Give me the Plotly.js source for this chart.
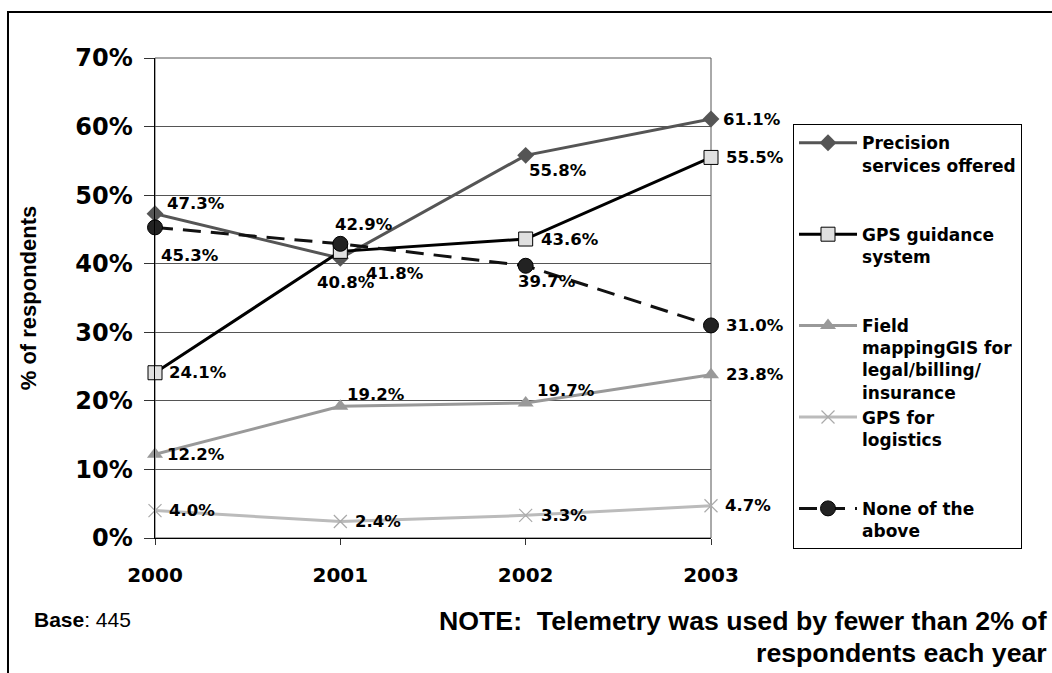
<!DOCTYPE html>
<html>
<head>
<meta charset="utf-8">
<script src="https://cdn.plot.ly/plotly-3.0.1.min.js"></script>
<style>html,body{margin:0;padding:0;background:#fff;}#chart{width:1052px;height:673px;}</style>
</head>
<body>
<div id="chart"></div>
<script>
// ---- data ----
var years = [2000, 2001, 2002, 2003];
var yearLabels = ['2000', '2001', '2002', '2003'];
var precision = [47.3, 40.8, 55.8, 61.1];
var gpsGuidance = [24.1, 41.8, 43.6, 55.5];
var fieldMapping = [12.2, 19.2, 19.7, 23.8];
var gpsLogistics = [4.0, 2.4, 3.3, 4.7];
var noneAbove = [45.3, 42.9, 39.7, 31.0];
var seriesNames = [
  'Precision<br>services offered<br>\u00a0<br>\u00a0',
  'GPS guidance<br>system<br>\u00a0<br>\u00a0',
  'Field<br>mappingGIS for<br>legal/billing/<br>insurance',
  'GPS for<br>logistics<br>\u00a0<br>\u00a0',
  'None of the<br>above'
];
var yTickVals = [0, 10, 20, 30, 40, 50, 60, 70];
var yTickText = ['0%', '10%', '20%', '30%', '40%', '50%', '60%', '70%'];

// ---- styles ----
var WIDE = '"DejaVu Sans", Verdana, sans-serif';
var ARIAL = '"Liberation Sans", Arial, Helvetica, sans-serif';
var styles = [
  {color: '#555555', width: 3, dash: 'solid', marker: {symbol: 'diamond', size: 13, color: '#555555', line: {width: 0}}},
  {color: '#000000', width: 3, dash: 'solid', marker: {symbol: 'square', size: 14, color: '#e0e0e0', line: {width: 1, color: '#000'}}},
  {color: '#999999', width: 3, dash: 'solid', marker: {symbol: 'triangle-up', size: 14, color: '#999999', line: {width: 0}}},
  {color: '#bbbbbb', width: 3, dash: 'solid', marker: {symbol: 'x-thin', size: 13, color: '#aaaaaa', line: {width: 1.2, color: '#aaaaaa'}}},
  {color: '#111111', width: 3, dash: '18px,10px', marker: {symbol: 'circle', size: 15, color: '#222222', line: {width: 1, color: '#000'}}}
];
// label offsets in px (dx right, dy down) for each point
var offsets = [
  [[41, -10], [6, 24], [32, 15], [41, 0]],
  [[43, 0], [55, 22], [44, 0], [44, 0]],
  [[41, 0], [36, -12], [40, -12], [44, 0]],
  [[37, 0], [38, 0], [38, 0], [37, 0]],
  [[35, 28], [24, -19], [21, 16], [44, 0]]
];

var allSeries = [precision, gpsGuidance, fieldMapping, gpsLogistics, noneAbove];
var traces = allSeries.map(function (vals, k) {
  var s = styles[k];
  return {
    type: 'scatter', mode: 'lines+markers', x: years, y: vals, name: seriesNames[k],
    line: {color: s.color, width: s.width, dash: s.dash},
    marker: s.marker, cliponaxis: false, hoverinfo: 'x+y+name'
  };
});

var annotations = [];
allSeries.forEach(function (vals, k) {
  vals.forEach(function (v, i) {
    annotations.push({
      x: years[i], y: v, xref: 'x', yref: 'y', text: v.toFixed(1) + '%', showarrow: false,
      xshift: offsets[k][i][0], yshift: -offsets[k][i][1],
      font: {family: WIDE, size: 16.5, weight: 'bold', color: '#000'}
    });
  });
});
annotations.push({
  xref: 'paper', yref: 'paper', x: -0.2212, y: -0.1708, xanchor: 'left', yanchor: 'middle',
  text: '<b>Base</b>: 445', showarrow: false, font: {family: ARIAL, size: 21, color: '#000'}
});
annotations.push({
  xref: 'paper', yref: 'paper', x: 1.608, y: -0.1729, xanchor: 'right', yanchor: 'middle',
  text: 'NOTE:\u00a0 Telemetry was used by fewer than 2% of', showarrow: false,
  font: {family: ARIAL, size: 26.7, weight: 'bold', color: '#000'}
});
annotations.push({
  xref: 'paper', yref: 'paper', x: 1.608, y: -0.2396, xanchor: 'right', yanchor: 'middle',
  text: 'respondents each year', showarrow: false,
  font: {family: ARIAL, size: 26.7, weight: 'bold', color: '#000'}
});

var layout = {
  width: 1052, height: 673, autosize: false,
  margin: {l: 155, r: 341, t: 58, b: 135, pad: 0},
  paper_bgcolor: '#ffffff', plot_bgcolor: '#ffffff',
  showlegend: true,
  xaxis: {
    range: [2000, 2003], tickvals: years, ticktext: yearLabels,
    ticks: 'outside', ticklen: 6, tickcolor: '#333', tickwidth: 1, ticklabelstandoff: 13,
    showline: true, linecolor: '#000', linewidth: 1, showgrid: false, zeroline: false,
    tickfont: {family: WIDE, size: 20, weight: 'bold', color: '#000'}, fixedrange: true
  },
  yaxis: {
    range: [0, 70], tickvals: yTickVals, ticktext: yTickText,
    ticks: 'outside', ticklen: 10, tickcolor: '#333', tickwidth: 1, ticklabelstandoff: 6,
    showline: true, linecolor: '#000', linewidth: 1.5, showgrid: true, gridcolor: '#555', gridwidth: 1,
    zeroline: false,
    tickfont: {family: WIDE, size: 24, weight: 'bold', color: '#000'},
    title: {text: '% of respondents', standoff: 32, font: {family: ARIAL, size: 22, weight: 'bold', color: '#000'}},
    fixedrange: true
  },
  legend: {
    x: 1.1475, y: 0.862, xanchor: 'left', yanchor: 'top',
    bordercolor: '#000', borderwidth: 1, bgcolor: '#fff',
    font: {family: WIDE, size: 17, weight: 'bold', color: '#000'},
    valign: 'top', itemwidth: 58, tracegroupgap: 0
  },
  shapes: [
    {type: 'rect', xref: 'paper', yref: 'paper', x0: 0, x1: 1, y0: 0, y1: 1, line: {color: '#555', width: 1}, layer: 'below'},
    {type: 'rect', xref: 'paper', yref: 'paper', x0: -0.2644, x1: 1.75, y0: 1.0958, y1: -0.45, line: {color: '#000', width: 2}, fillcolor: 'rgba(0,0,0,0)', layer: 'below'}
  ],
  annotations: annotations
};

Plotly.newPlot('chart', traces, layout, {displayModeBar: false, staticPlot: true});
</script>
</body>
</html>
